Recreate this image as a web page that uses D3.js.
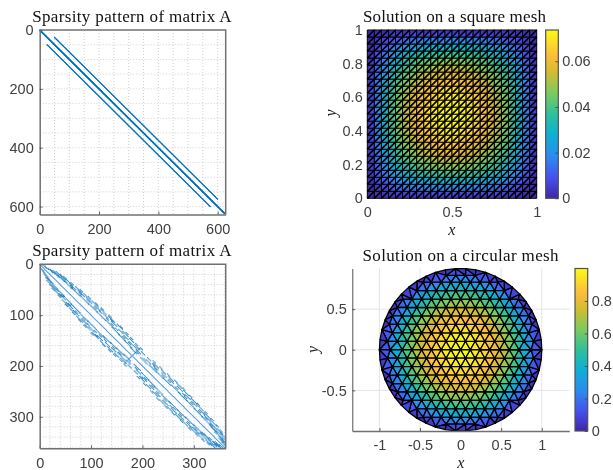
<!DOCTYPE html>
<html>
<head>
<meta charset="utf-8">
<script src="https://d3js.org/d3.v7.min.js"></script>
<style>
  html, body { margin: 0; padding: 0; background: #fff; }
  svg { display: block; filter: blur(0.35px); }
  .tick text { font-family: "Liberation Sans", sans-serif; font-size: 14.5px; fill: #404040; }
  .title { font-family: "Liberation Serif", serif; fill: #111; text-anchor: middle; letter-spacing: 0.35px; }
  .mathlabel { font-family: "Liberation Serif", serif; font-style: italic; font-size: 16px; fill: #222; text-anchor: middle; }
</style>
</head>
<body>
<div id="chart"></div>
<script>
// parula colour stops
var parulaStops = [0, 0.125, 0.25, 0.375, 0.5, 0.625, 0.75, 0.85, 1];
var parulaColors = ["#3E26A8", "#4751F0", "#2B8CF0", "#0DB0D4", "#2EC09C", "#7CCB5E", "#D3BC30", "#FDBD3A", "#F9FB15"];

// top left: sparsity bands [first row, last row, col - row]
var squareBands = [[0, 624, 0], [0, 623, 1], [1, 624, -1], [25, 575, 25], [50, 600, -25]];
var squareTicks = [0, 200, 400, 600];

// bottom left: streaks [first row, last row, col - row], upper half only
var circleStreaks = [
  [0, 361, 0],
  [2, 8, 5], [4, 10, 7], [8, 16, 9], [10, 18, 11], [12, 22, 14], [16, 26, 12], [14, 24, 18], [22, 34, 14],
  [20, 30, 20], [26, 36, 17], [30, 42, 22], [34, 48, 15], [38, 50, 20], [44, 56, 26], [46, 62, 16], [52, 64, 23],
  [58, 70, 28], [62, 78, 17], [66, 76, 25], [72, 84, 30], [78, 94, 18], [82, 92, 26], [88, 98, 31], [94, 110, 18],
  [96, 106, 27], [102, 114, 32], [110, 126, 19], [112, 122, 28], [118, 128, 33], [124, 138, 17], [128, 136, 26],
  [132, 142, 30], [138, 150, 16], [140, 148, 24], [146, 154, 29], [150, 164, 15], [152, 160, 22], [158, 168, 27],
  [164, 176, 13], [168, 176, 20], [172, 178, 26],
  [184, 196, 13], [188, 196, 20], [184, 190, 26], [198, 212, 15], [200, 208, 22], [194, 204, 27], [212, 224, 16],
  [214, 222, 24], [208, 216, 29], [224, 238, 17], [226, 234, 26], [220, 230, 30], [238, 254, 19], [240, 250, 28],
  [234, 244, 33], [252, 268, 18], [256, 266, 27], [248, 258, 32], [268, 284, 18], [270, 280, 26], [264, 274, 31],
  [284, 300, 17], [286, 296, 25], [276, 288, 30], [300, 316, 16], [298, 310, 23], [292, 304, 28], [316, 328, 15],
  [312, 324, 20], [306, 318, 26], [320, 332, 14], [328, 338, 17], [324, 334, 22], [336, 344, 12], [332, 342, 20],
  [338, 348, 11], [344, 352, 9], [342, 350, 7], [350, 356, 5]
];
// the scattered dots that widen the outer bands
var circleCloud = [
  [24, 28, 23], [36, 40, 25], [42, 46, 18], [50, 54, 29], [56, 60, 21], [64, 68, 31], [70, 74, 22], [76, 80, 33],
  [84, 88, 22], [86, 90, 34], [92, 96, 24], [100, 104, 35], [106, 110, 24], [108, 112, 30], [116, 120, 23],
  [122, 126, 35], [126, 130, 22], [134, 138, 34], [142, 146, 20], [144, 148, 33], [154, 158, 19], [156, 160, 31],
  [162, 166, 23], [164, 168, 32], [174, 176, 16], [186, 190, 17], [190, 194, 31], [196, 200, 24], [202, 206, 32],
  [204, 208, 19], [216, 220, 33], [218, 222, 20], [228, 232, 22], [228, 232, 35], [242, 246, 23], [244, 248, 35],
  [254, 258, 24], [258, 262, 34], [260, 264, 22], [272, 276, 22], [274, 278, 33], [288, 292, 21], [290, 294, 32],
  [302, 306, 20], [304, 308, 30], [314, 318, 18], [316, 320, 28], [326, 330, 25], [330, 334, 11], [340, 344, 15]
];
// the short cross where the mesh centre row sits
var circleCross = [
  [178, 178, 4], [176, 176, 8], [174, 174, 12], [172, 172, 16], [170, 170, 20], [168, 168, 24], [166, 166, 28]
];
var circleTicks = [0, 100, 200, 300];

// top right: solution at mesh nodes x 1000, one quarter of the 25 x 25 grid (rest is mirrored)
var squareSolution = [
  [0, 0, 0, 0, 0, 0, 0, 0, 0, 0, 0, 0, 0],
  [0, 2, 4, 6, 7, 9, 10, 11, 11, 12, 12, 12, 13],
  [0, 4, 8, 11, 14, 17, 19, 21, 22, 23, 24, 24, 24],
  [0, 6, 11, 16, 21, 24, 27, 29, 31, 33, 34, 34, 35],
  [0, 7, 14, 21, 26, 30, 34, 37, 39, 41, 42, 43, 44],
  [0, 9, 17, 24, 30, 35, 39, 43, 45, 48, 50, 51, 51],
  [0, 10, 19, 27, 34, 39, 44, 48, 51, 54, 55, 56, 57],
  [0, 11, 21, 29, 37, 43, 48, 52, 55, 58, 60, 62, 62],
  [0, 11, 22, 31, 39, 45, 51, 55, 59, 62, 64, 65, 66],
  [0, 12, 23, 33, 41, 48, 54, 58, 62, 65, 67, 69, 70],
  [0, 12, 24, 34, 42, 50, 55, 60, 64, 67, 70, 71, 72],
  [0, 12, 24, 34, 43, 51, 56, 62, 65, 69, 71, 73, 73],
  [0, 13, 24, 35, 44, 51, 57, 62, 66, 70, 72, 73, 74]
];
var squareMeshTicks = [0, 0.2, 0.4, 0.6, 0.8, 1];
var squareMeshXTicks = [0, 0.5, 1];
var squareBarTicks = [0, 0.02, 0.04, 0.06];

// bottom right: mesh rows of the right upper quadrant (rest is mirrored)
var diskRowY = [0, 0.104, 0.208, 0.312, 0.416, 0.52, 0.624, 0.728, 0.832, 0.915];
var diskRowX = [
  [0, 0.12, 0.24, 0.36, 0.48, 0.6, 0.72, 0.87],
  [0.06, 0.18, 0.3, 0.42, 0.54, 0.66, 0.78, 0.9],
  [0, 0.12, 0.24, 0.36, 0.48, 0.6, 0.72, 0.84],
  [0.06, 0.18, 0.3, 0.42, 0.54, 0.66, 0.78, 0.88],
  [0, 0.12, 0.24, 0.36, 0.48, 0.6, 0.72, 0.84],
  [0.06, 0.18, 0.3, 0.42, 0.54, 0.66, 0.78],
  [0, 0.12, 0.24, 0.36, 0.48, 0.6, 0.71],
  [0.06, 0.18, 0.3, 0.42, 0.54],
  [0, 0.12, 0.24, 0.36, 0.46],
  [0.06, 0.18]
];
var diskRowU = [
  [1, 0.99, 0.94, 0.87, 0.77, 0.64, 0.48, 0.24],
  [0.99, 0.96, 0.9, 0.81, 0.7, 0.55, 0.38, 0.18],
  [0.96, 0.94, 0.9, 0.83, 0.73, 0.6, 0.44, 0.25],
  [0.9, 0.87, 0.81, 0.73, 0.61, 0.47, 0.29, 0.13],
  [0.83, 0.81, 0.77, 0.7, 0.6, 0.47, 0.31, 0.12],
  [0.73, 0.7, 0.64, 0.55, 0.44, 0.29, 0.12],
  [0.61, 0.6, 0.55, 0.48, 0.38, 0.25, 0.11],
  [0.47, 0.44, 0.38, 0.29, 0.18],
  [0.31, 0.29, 0.25, 0.18, 0.1],
  [0.17, 0.14]
];
var diskRimAngles = d3.range(50).map(function(k) { return k * 7.2; });
var diskXTicks = [-1, -0.5, 0, 0.5, 1];
var diskYTicks = [-0.5, 0, 0.5];
var diskBarTicks = [0, 0.2, 0.4, 0.6, 0.8];

var svg = d3.select("#chart").append("svg").attr("width", 613).attr("height", 470);
var defs = svg.append("defs");

var parula = d3.scaleLinear().domain(parulaStops).range(parulaColors).interpolate(d3.interpolateRgb);

function drawTitle(text, x, y, size, spacing) {
    svg.append("text").attr("class", "title").attr("x", x).attr("y", y)
        .style("font-size", size + "px").style("letter-spacing", spacing + "px").text(text);
}

function styleAxis(g, color, width) {
    g.select(".domain").attr("stroke", color).attr("stroke-width", width);
    g.selectAll(".tick line").attr("stroke", "#404040").attr("stroke-width", 0.8);
}

// Sparsity plot: dotted grid, dots, box
function drawSpy(box, n, ticks, minorStep, dots, radius, opacity) {
    var x = d3.scaleLinear().domain([0, n]).range([box.left, box.right]);
    var y = d3.scaleLinear().domain([0, n]).range([box.top, box.bottom]);
    var gridValues = d3.range(minorStep, n, minorStep);
    var grid = svg.append("g").attr("stroke", "#c4c4c4").attr("stroke-width", 0.8).attr("stroke-dasharray", "1,2");
    grid.selectAll(".gx").data(gridValues).enter().append("line")
        .attr("x1", d => x(d)).attr("x2", d => x(d)).attr("y1", box.top).attr("y2", box.bottom);
    grid.selectAll(".gy").data(gridValues).enter().append("line")
        .attr("x1", box.left).attr("x2", box.right).attr("y1", d => y(d)).attr("y2", d => y(d));

    svg.append("g").attr("fill", "#0072BD").attr("fill-opacity", opacity)
        .selectAll("circle").data(dots).enter().append("circle")
        .attr("cx", d => x(d[1])).attr("cy", d => y(d[0])).attr("r", d => d[0] === d[1] ? radius * 0.7 : radius);

    var gx = svg.append("g").attr("transform", "translate(0," + box.bottom + ")")
        .call(d3.axisBottom(x).tickValues(ticks).tickFormat(d => d).tickSizeInner(-3).tickSizeOuter(0).tickPadding(9));
    var gy = svg.append("g").attr("transform", "translate(" + box.left + ",0)")
        .call(d3.axisLeft(y).tickValues(ticks).tickFormat(d => d).tickSizeInner(-3).tickSizeOuter(0).tickPadding(6));
    styleAxis(gx, "#707070", 1.5);
    styleAxis(gy, "#707070", 1.5);
    svg.append("path").attr("fill", "none").attr("stroke", "#707070").attr("stroke-width", 1.5)
        .attr("d", "M" + box.left + "," + box.top + "H" + box.right + "V" + box.bottom);
}

function drawColorbar(id, box, max, ticks) {
    var gradient = defs.append("linearGradient").attr("id", id).attr("x1", 0).attr("x2", 0).attr("y1", 1).attr("y2", 0);
    parulaStops.forEach(function(s, i) {
        gradient.append("stop").attr("offset", s).attr("stop-color", parulaColors[i]);
    });
    svg.append("rect").attr("x", box.left).attr("y", box.top)
        .attr("width", box.right - box.left).attr("height", box.bottom - box.top)
        .attr("fill", "url(#" + id + ")").attr("stroke", "#505050").attr("stroke-width", 1.2);
    var scale = d3.scaleLinear().domain([0, max]).range([box.bottom, box.top]);
    var g = svg.append("g").attr("transform", "translate(" + box.right + ",0)")
        .call(d3.axisRight(scale).tickValues(ticks).tickFormat(d => d).tickSizeInner(-3).tickSizeOuter(0).tickPadding(4));
    g.select(".domain").remove();
    g.selectAll(".tick line").attr("stroke", "#404040").attr("stroke-width", 0.8);
}

// ---- top left
var squareDots = [];
squareBands.forEach(function(s) {
    d3.range(s[0], s[1] + 1).forEach(function(r) { squareDots.push([r, r + s[2]]); });
});
drawSpy({ left: 39.7, right: 225.7, top: 30, bottom: 214.5 }, 627, squareTicks, 50, squareDots, 0.6, 1);
drawTitle("Sparsity pattern of matrix A", 132, 21.5, 17, 0.35);

// ---- bottom left: every other row of a streak, mirrored below the diagonal
var circleDots = [];
circleStreaks.concat(circleCloud).concat(circleCross).forEach(function(s) {
    d3.range(s[0], s[1] + 1, s[2] === 0 ? 1 : 2).forEach(function(r) {
        circleDots.push([r, r + s[2]]);
        if (s[2] !== 0) circleDots.push([r + s[2], r]);
    });
});
drawSpy({ left: 39.7, right: 225.7, top: 264.3, bottom: 448.3 }, 362, circleTicks, 20, circleDots, 0.72, 0.75);
drawTitle("Sparsity pattern of matrix A", 132, 255.5, 17, 0.35);

// ---- top right: square mesh
var sq = { left: 367.3, right: 536.7, top: 30, bottom: 198.3 };
var sqX = d3.scaleLinear().domain([0, 1]).range([sq.left, sq.right]);
var sqY = d3.scaleLinear().domain([0, 1]).range([sq.bottom, sq.top]);
var sqColor = d3.scaleLinear().domain([0, 0.0737]).range([0, 1]);

function sqU(i, j) {
    return squareSolution[i > 12 ? 24 - i : i][j > 12 ? 24 - j : j] / 1000;
}

var sqTriangles = [];
d3.range(24).forEach(function(i) {
    d3.range(24).forEach(function(j) {
        sqTriangles.push([[i, j], [i + 1, j], [i + 1, j + 1]]);
        sqTriangles.push([[i, j], [i + 1, j + 1], [i, j + 1]]);
    });
});
svg.append("g").attr("stroke", "#000").attr("stroke-width", 1).attr("stroke-linejoin", "round")
    .selectAll("path").data(sqTriangles).enter().append("path")
    .attr("d", t => "M" + t.map(p => sqX(p[0] / 24) + "," + sqY(p[1] / 24)).join("L") + "Z")
    .attr("fill", t => parula(sqColor(d3.mean(t, p => sqU(p[0], p[1])))));
// the diagonals read heavier than the cell sides
svg.append("g").attr("stroke", "#000").attr("stroke-width", 1.7)
    .selectAll("line").data(sqTriangles.filter((t, k) => k % 2 === 0)).enter().append("line")
    .attr("x1", t => sqX(t[0][0] / 24)).attr("y1", t => sqY(t[0][1] / 24))
    .attr("x2", t => sqX(t[2][0] / 24)).attr("y2", t => sqY(t[2][1] / 24));

var sqAxX = svg.append("g").attr("transform", "translate(0," + sq.bottom + ")")
    .call(d3.axisBottom(sqX).tickValues(squareMeshXTicks).tickFormat(d => d).tickSize(0).tickPadding(8));
var sqAxY = svg.append("g").attr("transform", "translate(" + sq.left + ",0)")
    .call(d3.axisLeft(sqY).tickValues(squareMeshTicks).tickFormat(d => d).tickSize(0).tickPadding(4.6));
sqAxX.select(".domain").remove();
sqAxY.select(".domain").remove();
drawTitle("Solution on a square mesh", 454.5, 21.5, 17, 0.15);
svg.append("text").attr("class", "mathlabel").attr("x", 451.7).attr("y", 235).text("x");
svg.append("text").attr("class", "mathlabel").attr("transform", "translate(336,113) rotate(-90)").text("y");
drawColorbar("barSquare", { left: 545.7, right: 558.3, top: 30, bottom: 198.3 }, 0.0737, squareBarTicks);

// ---- bottom right: circular mesh
var dk = { left: 352.3, right: 569.3, top: 268.5, bottom: 431 };
var dkX = d3.scaleLinear().domain([-1.3337, 1.3387]).range([dk.left, dk.right]);
var dkY = d3.scaleLinear().domain([-1, 1]).range([dk.bottom, dk.top]);

var dkGrid = svg.append("g").attr("stroke", "#e4e4e4").attr("stroke-width", 1);
dkGrid.selectAll(".gx").data(diskXTicks).enter().append("line")
    .attr("x1", d => dkX(d)).attr("x2", d => dkX(d)).attr("y1", dk.top).attr("y2", dk.bottom);
dkGrid.selectAll(".gy").data(diskYTicks).enter().append("line")
    .attr("x1", dk.left).attr("x2", dk.right).attr("y1", d => dkY(d)).attr("y2", d => dkY(d));

// nodes from the rows, mirrored into all quadrants, then the rim
var dkNodes = [];
diskRowY.forEach(function(yy, r) {
    diskRowX[r].forEach(function(xx, c) {
        var u = diskRowU[r][c];
        [1, -1].forEach(function(sx) {
            if (sx < 0 && xx === 0) return;
            [1, -1].forEach(function(sy) {
                if (sy < 0 && yy === 0) return;
                dkNodes.push([sx * xx, sy * yy, u]);
            });
        });
    });
});
diskRimAngles.forEach(function(a) {
    dkNodes.push([Math.cos(a * Math.PI / 180), Math.sin(a * Math.PI / 180), 0]);
});

var dkDelaunay = d3.Delaunay.from(dkNodes, d => d[0], d => d[1]);
var dkTriangles = d3.range(dkDelaunay.triangles.length / 3).map(function(k) {
    return [0, 1, 2].map(c => dkNodes[dkDelaunay.triangles[3 * k + c]]);
});
svg.append("g").attr("stroke", "#000").attr("stroke-width", 1.3).attr("stroke-linejoin", "round")
    .selectAll("path").data(dkTriangles).enter().append("path")
    .attr("d", t => "M" + t.map(p => dkX(p[0]) + "," + dkY(p[1])).join("L") + "Z")
    .attr("fill", t => parula(d3.mean(t, p => p[2])));

var dkAxX = svg.append("g").attr("transform", "translate(0," + dk.bottom + ")")
    .call(d3.axisBottom(dkX).tickValues(diskXTicks).tickFormat(d => d).tickSizeInner(-3).tickSizeOuter(0).tickPadding(8.5));
var dkAxY = svg.append("g").attr("transform", "translate(" + dk.left + ",0)")
    .call(d3.axisLeft(dkY).tickValues(diskYTicks).tickFormat(d => d).tickSizeInner(-3).tickSizeOuter(0).tickPadding(5.6));
styleAxis(dkAxX, "#707070", 1.5);
styleAxis(dkAxY, "#505050", 1);
drawTitle("Solution on a circular mesh", 460.7, 261, 17, 0.35);
svg.append("text").attr("class", "mathlabel").attr("x", 460.7).attr("y", 468).text("x");
svg.append("text").attr("class", "mathlabel").attr("transform", "translate(318,349.5) rotate(-90)").text("y");
drawColorbar("barDisk", { left: 575, right: 587.7, top: 268.5, bottom: 431 }, 1, diskBarTicks);
</script>
</body>
</html>
